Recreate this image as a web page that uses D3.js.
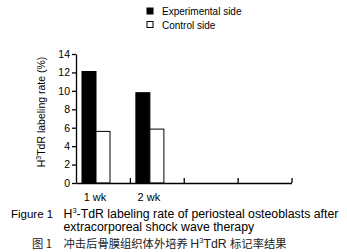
<!DOCTYPE html>
<html>
<head>
<meta charset="utf-8">
<script src="https://cdn.jsdelivr.net/npm/d3@7"></script>
<style>
  body { margin: 0; background: #fff; }
  text { font-family: "Liberation Sans", Arial, sans-serif; fill: #000; }
  .cjk { font-family: "Noto Sans CJK SC", sans-serif; fill: #222; }
</style>
</head>
<body>
<div class="canvas"></div>
<script>
// data
const weeks = ["1 wk", "2 wk"];
const series = ["Experimental side", "Control side"];
const experimental = [12.1, 9.8];
const control = [5.6, 5.85];
const yTicks = [0, 2, 4, 6, 8, 10, 12, 14];
const slots = 4; // the x axis has room for 4 groups, only 2 used

const W = 347, H = 252;
const margin = { top: 54, left: 76, bottom: 69 };
const plotW = 215.5;
const plotH = H - margin.top - margin.bottom;

const svg = d3.select('.canvas').append('svg')
    .attr('width', W)
    .attr('height', H);

const graph = svg.append('g')
    .attr('transform', `translate(${margin.left}, ${margin.top})`);

// scales
const x = d3.scaleBand().domain(d3.range(slots)).range([0, plotW]).padding(0);
const inner = d3.scaleBand().domain(series).range([6, 34]);
const y = d3.scaleLinear().domain([0, 14]).range([plotH, 0]);
const fill = d3.scaleOrdinal().domain(series).range(['#000', '#fff']);

// bars
const rows = weeks.map((w, i) => ({ i, values: [
    { s: series[0], v: experimental[i] },
    { s: series[1], v: control[i] }
]}));

const groups = graph.selectAll('g.grp')
    .data(rows)
    .enter().append('g')
    .attr('class', 'grp')
    .attr('transform', d => `translate(${x(d.i)},0)`);

groups.selectAll('rect')
    .data(d => d.values)
    .enter().append('rect')
    .attr('x', d => inner(d.s))
    .attr('width', inner.bandwidth())
    .attr('y', d => y(d.v))
    .attr('height', d => plotH - y(d.v))
    .attr('fill', d => fill(d.s))
    .attr('stroke', '#000')
    .attr('stroke-width', 1);

// y axis
const yAxis = d3.axisLeft(y)
    .tickValues(yTicks)
    .tickSize(4)
    .tickSizeOuter(0)
    .tickPadding(2);

const yAxisGroup = graph.append('g').call(yAxis);
yAxisGroup.selectAll('path, line').attr('stroke', '#000').attr('stroke-width', 1.3);
yAxisGroup.selectAll('text').attr('font-size', 10.5).attr('font-family', 'Liberation Sans, Arial, sans-serif');

// x axis: baseline with inward ticks at group boundaries
const xAxis = d3.axisBottom(d3.scaleLinear().domain([0, slots]).range([0, plotW]))
    .tickValues(d3.range(1, slots + 1))
    .tickSize(-5)
    .tickSizeOuter(0)
    .tickFormat('');

const xAxisGroup = graph.append('g')
    .attr('transform', `translate(0,${plotH})`)
    .call(xAxis);
xAxisGroup.selectAll('path, line').attr('stroke', '#000').attr('stroke-width', 1.3);

// week labels under the bar groups
graph.selectAll('text.wk')
    .data(weeks)
    .enter().append('text')
    .attr('class', 'wk')
    .attr('x', (d, i) => x(i) + (inner.range()[0] + inner.range()[1]) / 2 - 1)
    .attr('y', plotH + 18)
    .attr('text-anchor', 'middle')
    .attr('font-size', 11)
    .text(d => d);

// y label
const yl = svg.append('text')
    .attr('transform', 'translate(45,112) rotate(-90)')
    .attr('text-anchor', 'middle')
    .attr('font-size', 10.5);
yl.append('tspan').text('H');
yl.append('tspan').attr('font-size', 7).attr('dy', -4).text('3');
yl.append('tspan').attr('dy', 4).text('TdR labeling rate (%)');

// legend
const legend = svg.append('g').attr('transform', 'translate(147,8)');
const li = legend.selectAll('g')
    .data(series)
    .enter().append('g')
    .attr('transform', (d, i) => `translate(0,${i * 13.5})`);
li.append('rect')
    .attr('width', 6).attr('height', 6)
    .attr('fill', d => fill(d))
    .attr('stroke', '#000').attr('stroke-width', 1);
li.append('text')
    .attr('x', 15).attr('y', 7)
    .attr('font-size', 10)
    .text(d => d);

// caption
const cap = svg.append('g');
cap.append('text').attr('x', 11).attr('y', 217.5).attr('font-size', 11.5).text('Figure 1');
const c1 = cap.append('text').attr('x', 63.5).attr('y', 217.5).attr('font-size', 12.3);
c1.append('tspan').text('H');
c1.append('tspan').attr('font-size', 7.5).attr('dy', -5).text('3');
c1.append('tspan').attr('dy', 5).text('-TdR labeling rate of periosteal osteoblasts after');
cap.append('text').attr('x', 63.5).attr('y', 231).attr('font-size', 12.3).text('extracorporeal shock wave therapy');
cap.append('text').attr('class', 'cjk').attr('x', 32).attr('y', 247.5).attr('font-size', 11.3).text('图 1');
const c3 = cap.append('text').attr('class', 'cjk').attr('x', 63.5).attr('y', 247.5).attr('font-size', 11.3);
c3.append('tspan').text('冲击后骨膜组织体外培养 ');
c3.append('tspan').attr('font-family', 'Liberation Sans, Arial, sans-serif').attr('font-size', 12.3).text('H');
c3.append('tspan').attr('font-family', 'Liberation Sans, Arial, sans-serif').attr('font-size', 7.5).attr('dy', -5).text('3');
c3.append('tspan').attr('font-family', 'Liberation Sans, Arial, sans-serif').attr('font-size', 12.3).attr('dy', 5).text('TdR ');
c3.append('tspan').text('标记率结果');
</script>
</body>
</html>
